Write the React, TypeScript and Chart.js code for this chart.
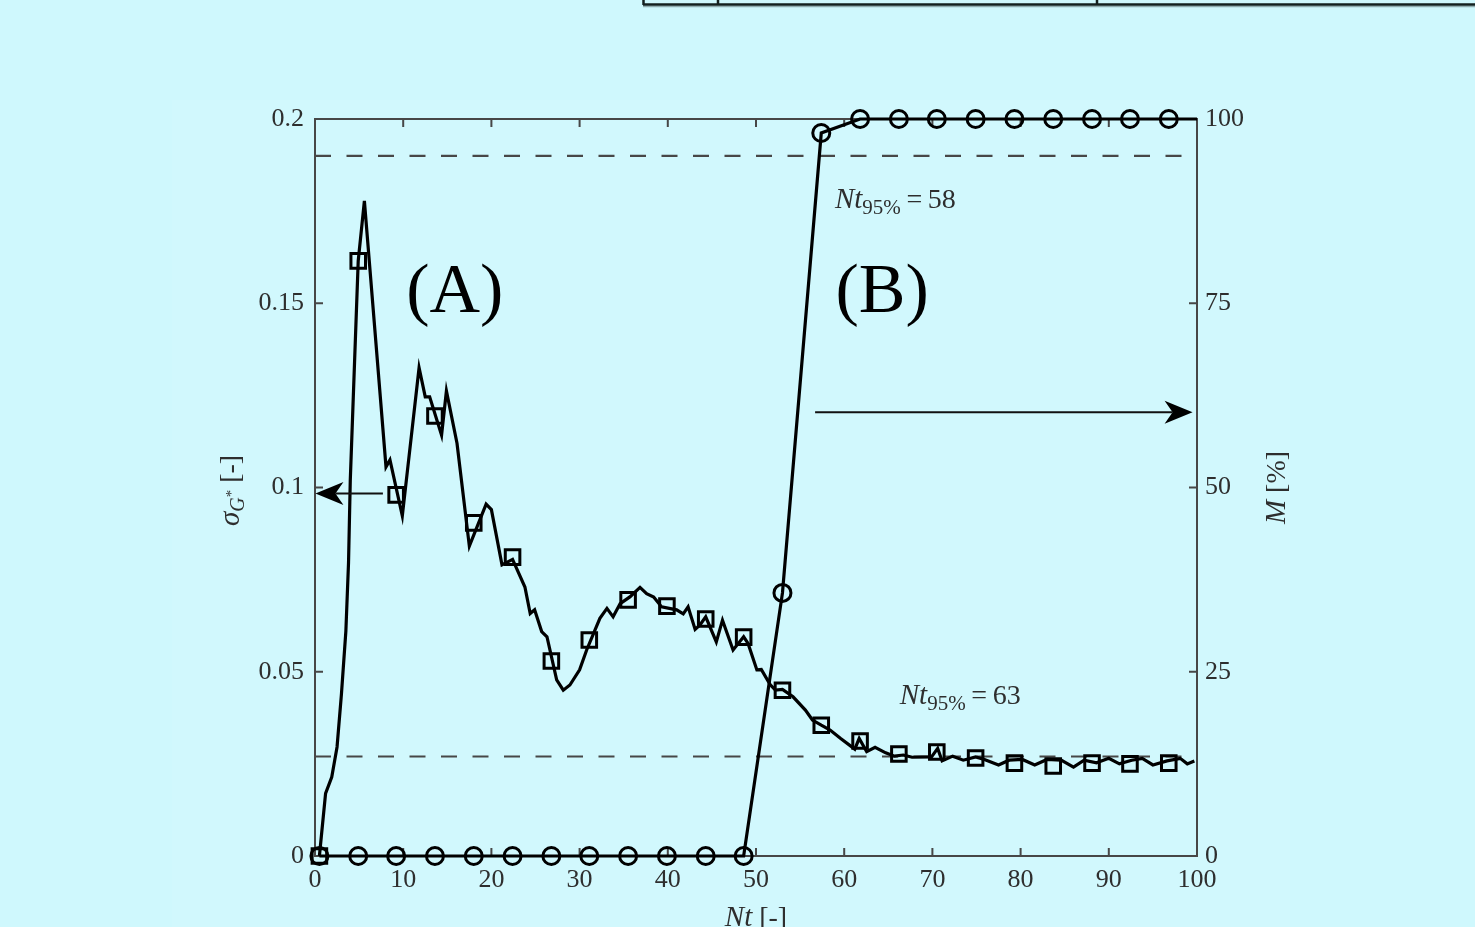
import { useEffect, useRef } from "react";
import { Chart, registerables } from "chart.js";

Chart.register(...registerables);

// ---------- data ----------
const xTickValues = [0, 10, 20, 30, 40, 50, 60, 70, 80, 90, 100];
const sigmaTickValues = [0, 0.05, 0.1, 0.15, 0.2];
const sigmaTickLabels = ["0", "0.05", "0.1", "0.15", "0.2"];
const mixingTickValues = [0, 25, 50, 75, 100];
const mixingTickLabels = ["0", "25", "50", "75", "100"];

const sigmaLineX = [
  0.5, 1.2, 1.9, 2.5, 3.0, 3.5, 3.8, 4.0, 4.9, 5.6,
  8.05, 8.5, 9.9, 11.8, 12.5, 13.0, 14.35, 14.9, 16.1, 17.5,
  19.4, 20.0, 21.2, 22.4, 23.8, 24.4, 24.9, 25.7, 26.3, 27.4,
  28.15, 28.9, 30.0, 30.8, 32.3, 33.1, 33.8, 34.6, 35.7, 36.85,
  37.6, 38.4, 39.3, 41.0, 41.75, 42.3, 43.1, 43.65, 44.3, 45.5,
  46.2, 47.4, 48.0, 48.6, 49.1, 50.1, 50.6, 51.6, 52.2, 53.0,
  54.2, 55.6, 56.4, 57.4, 58.4, 59.6, 61.2, 61.7, 62.55, 63.5,
  64.7, 65.7, 66.7, 67.7, 69.9, 70.6, 71.1, 72.3, 73.5, 74.9,
  75.9, 77.5, 78.7, 80.2, 81.6, 83.0, 84.6, 86.0, 87.2, 88.6,
  90.0, 91.2, 92.6, 93.8, 95.0, 96.6, 98.1, 98.9, 99.7,
];
const sigmaLineY = [
  0, 0.017, 0.0214, 0.0296, 0.044, 0.061, 0.0795, 0.102, 0.1615, 0.1778,
  0.1056, 0.1075, 0.0923, 0.1325, 0.1246, 0.1246, 0.1142, 0.1262, 0.112, 0.0841,
  0.0955, 0.094, 0.079, 0.0805, 0.073, 0.0658, 0.0668, 0.0609, 0.0595, 0.0478,
  0.045, 0.0464, 0.0505, 0.0559, 0.0645, 0.0672, 0.0649, 0.0685, 0.0703, 0.0729,
  0.0712, 0.0703, 0.0676, 0.0668, 0.0657, 0.0676, 0.0615, 0.0627, 0.0649, 0.0581,
  0.064, 0.0559, 0.0577, 0.0595, 0.0577, 0.0505, 0.0506, 0.0465, 0.045, 0.0452,
  0.0432, 0.0396, 0.0369, 0.0355, 0.0342, 0.0319, 0.029, 0.0319, 0.0283, 0.0295,
  0.028, 0.0271, 0.0274, 0.0268, 0.0269, 0.0292, 0.0258, 0.0271, 0.026, 0.0269,
  0.0262, 0.0247, 0.026, 0.0262, 0.0247, 0.0262, 0.026, 0.0241, 0.026, 0.0253,
  0.0265, 0.025, 0.026, 0.0265, 0.0247, 0.0258, 0.0265, 0.025, 0.0258,
];

const markerX = [
  0.5, 4.9, 9.2, 13.6, 18.0, 22.4, 26.8, 31.1, 35.5, 39.9, 44.3, 48.6,
  53.0, 57.4, 61.8, 66.2, 70.5, 74.9, 79.3, 83.7, 88.1, 92.4, 96.8,
];
const sigmaMarkers = [
  0, 0.1615, 0.098, 0.1194, 0.0904, 0.0811, 0.0529, 0.0586, 0.0695, 0.0678, 0.0643, 0.0594,
  0.045, 0.0355, 0.0312, 0.0277, 0.0282, 0.0266, 0.0252, 0.0244, 0.0252, 0.025, 0.0252,
];
const mixingMarkers = [
  0, 0, 0, 0, 0, 0, 0, 0, 0, 0, 0, 0,
  35.7, 98.1, 100, 100, 100, 100, 100, 100, 100, 100, 100,
];
const mixingEndX = 100;
const mixingEndY = 100;

const sigmaThreshold = 0.027;
const mixingThreshold = 95;

// ---------- styling ----------
const SERIF = "'Liberation Serif', 'DejaVu Serif', serif";
const BG = "#cff8fd";
const AXIS = "#474747";
const TEXT = "#2e2e2e";

type Run = { t: string; font: string; dy?: number };

function runsWidth(ctx: CanvasRenderingContext2D, runs: Run[]) {
  let w = 0;
  for (const r of runs) {
    ctx.font = r.font;
    w += ctx.measureText(r.t).width;
  }
  return w;
}

function drawRuns(ctx: CanvasRenderingContext2D, runs: Run[], x: number, y: number) {
  let cx = x;
  ctx.textBaseline = "alphabetic";
  ctx.textAlign = "left";
  for (const r of runs) {
    ctx.font = r.font;
    ctx.fillText(r.t, cx, y + (r.dy || 0));
    cx += ctx.measureText(r.t).width;
  }
}

function arrow(ctx: CanvasRenderingContext2D, x0: number, y0: number, x1: number, y1: number) {
  const ang = Math.atan2(y1 - y0, x1 - x0);
  const len = 28;
  const half = 11.5;
  const notch = 20;
  const c = Math.cos(ang), s = Math.sin(ang);
  ctx.beginPath();
  ctx.moveTo(x0, y0);
  ctx.lineTo(x1 - c * notch, y1 - s * notch);
  ctx.lineWidth = 2;
  ctx.strokeStyle = "#111";
  ctx.stroke();
  ctx.beginPath();
  ctx.moveTo(x1, y1);
  ctx.lineTo(x1 - c * len - s * half, y1 - s * len + c * half);
  ctx.lineTo(x1 - c * notch, y1 - s * notch);
  ctx.lineTo(x1 - c * len + s * half, y1 - s * len - c * half);
  ctx.closePath();
  ctx.fillStyle = "#000";
  ctx.fill();
}

const decorPlugin = {
  id: "decor",
  beforeDraw(chart: any) {
    const ctx: CanvasRenderingContext2D = chart.ctx;
    ctx.save();
    ctx.fillStyle = BG;
    ctx.fillRect(0, 0, chart.width, chart.height);
    ctx.fillStyle = "rgba(255,255,255,0.05)";
    ctx.fillRect(172, 100, 1118, chart.height - 100);
    // fragment of a table border at the top
    ctx.strokeStyle = "rgba(0,0,0,0.3)";
    ctx.lineWidth = 1.5;
    ctx.beginPath();
    ctx.moveTo(643, 6.5);
    ctx.lineTo(chart.width, 6.5);
    ctx.stroke();
    ctx.strokeStyle = "#14201f";
    ctx.lineWidth = 2.5;
    ctx.beginPath();
    ctx.moveTo(643, 4.5);
    ctx.lineTo(chart.width, 4.5);
    for (const vx of [643.5, 718, 1097]) {
      ctx.moveTo(vx, 0);
      ctx.lineTo(vx, 5);
    }
    ctx.stroke();
    ctx.restore();
  },
  beforeDatasetsDraw(chart: any) {
    const ctx: CanvasRenderingContext2D = chart.ctx;
    const a = chart.chartArea;
    const xs = chart.scales.x;
    const ys = chart.scales.y;
    const y2 = chart.scales.y2;
    ctx.save();
    ctx.strokeStyle = AXIS;
    ctx.lineWidth = 2;
    ctx.strokeRect(a.left, a.top, a.right - a.left, a.bottom - a.top);
    const tl = 8;
    ctx.beginPath();
    for (const v of xTickValues) {
      if (v === 0 || v === 100) continue;
      const px = xs.getPixelForValue(v);
      ctx.moveTo(px, a.bottom);
      ctx.lineTo(px, a.bottom - tl);
      ctx.moveTo(px, a.top);
      ctx.lineTo(px, a.top + tl);
    }
    for (const v of sigmaTickValues) {
      if (v === 0 || v === 0.2) continue;
      const py = ys.getPixelForValue(v);
      ctx.moveTo(a.left, py);
      ctx.lineTo(a.left + tl, py);
    }
    for (const v of mixingTickValues) {
      if (v === 0 || v === 100) continue;
      const py = y2.getPixelForValue(v);
      ctx.moveTo(a.right, py);
      ctx.lineTo(a.right - tl, py);
    }
    ctx.stroke();
    ctx.restore();
  },
  afterDatasetsDraw(chart: any) {
    const ctx: CanvasRenderingContext2D = chart.ctx;
    const a = chart.chartArea;
    const xs = chart.scales.x;
    const ys = chart.scales.y;
    const y2 = chart.scales.y2;
    ctx.save();

    // arrows
    arrow(ctx, xs.getPixelForValue(7.7), ys.getPixelForValue(0.0984), xs.getPixelForValue(0.05), ys.getPixelForValue(0.0984));
    arrow(ctx, xs.getPixelForValue(56.7), y2.getPixelForValue(60.2), xs.getPixelForValue(99.5), y2.getPixelForValue(60.2));

    // big labels
    ctx.fillStyle = "#000";
    ctx.font = `70px ${SERIF}`;
    ctx.textAlign = "center";
    ctx.textBaseline = "alphabetic";
    ctx.fillText("(A)", xs.getPixelForValue(15.85), ys.getPixelForValue(0.1475));
    ctx.fillText("(B)", xs.getPixelForValue(64.3), ys.getPixelForValue(0.1475));

    // Nt95% annotations
    ctx.fillStyle = TEXT;
    const ann = (val: string): Run[] => [
      { t: "Nt", font: `italic 29px ${SERIF}` },
      { t: "95%", font: `21px ${SERIF}`, dy: 6 },
      { t: "\u2009=\u2009" + val, font: `28px ${SERIF}` },
    ];
    drawRuns(ctx, ann("58"), xs.getPixelForValue(58.95), ys.getPixelForValue(0.1759));
    drawRuns(ctx, ann("63"), xs.getPixelForValue(66.3), ys.getPixelForValue(0.0412));

    // axis titles
    const leftTitle: Run[] = [
      { t: "σ", font: `italic 29px ${SERIF}` },
      { t: "G", font: `italic 20px ${SERIF}`, dy: 5 },
      { t: "*", font: `15px ${SERIF}`, dy: -3 },
      { t: " [-]", font: `28px ${SERIF}` },
    ];
    const rightTitle: Run[] = [
      { t: "M", font: `italic 29px ${SERIF}` },
      { t: " [%]", font: `28px ${SERIF}` },
    ];
    const bottomTitle: Run[] = [
      { t: "Nt", font: `italic 29px ${SERIF}` },
      { t: " [-]", font: `28px ${SERIF}` },
    ];
    const midY = (a.top + a.bottom) / 2;
    let w = runsWidth(ctx, leftTitle);
    ctx.save();
    ctx.translate(a.left - 76, midY + 3);
    ctx.rotate(-Math.PI / 2);
    drawRuns(ctx, leftTitle, -w / 2, 0);
    ctx.restore();

    w = runsWidth(ctx, rightTitle);
    ctx.save();
    ctx.translate(a.right + 88, midY);
    ctx.rotate(-Math.PI / 2);
    drawRuns(ctx, rightTitle, -w / 2, 0);
    ctx.restore();

    w = runsWidth(ctx, bottomTitle);
    drawRuns(ctx, bottomTitle, (a.left + a.right) / 2 - w / 2, a.bottom + 70);

    ctx.restore();
  },
};

export default function App() {
  const canvasRef = useRef<HTMLCanvasElement | null>(null);

  useEffect(() => {
    const canvas = canvasRef.current;
    if (!canvas) return;

    const sigmaLine = sigmaLineX.map((x, i) => ({ x, y: sigmaLineY[i] }));
    const sigmaPts = markerX.map((x, i) => ({ x, y: sigmaMarkers[i] }));
    const mixingPts = markerX.map((x, i) => ({ x, y: mixingMarkers[i] }));
    mixingPts.push({ x: mixingEndX, y: mixingEndY });

    const tickFont = { family: SERIF, size: 26 };
    const noGrid = { display: false, drawTicks: false };

    const chart = new Chart(canvas, {
      type: "line",
      data: {
        datasets: [
          {
            label: "sigma95",
            data: [{ x: 0, y: sigmaThreshold }, { x: 100, y: sigmaThreshold }],
            yAxisID: "y",
            borderColor: AXIS,
            borderWidth: 2.2,
            borderDash: [16, 15.5],
            pointRadius: 0,
            order: 5,
          },
          {
            label: "M95",
            data: [{ x: 0, y: mixingThreshold }, { x: 100, y: mixingThreshold }],
            yAxisID: "y2",
            borderColor: AXIS,
            borderWidth: 2.2,
            borderDash: [16, 15.5],
            pointRadius: 0,
            order: 5,
          },
          {
            label: "sigma",
            data: sigmaLine,
            yAxisID: "y",
            borderColor: "#000",
            borderWidth: 3.2,
            pointRadius: 0,
            tension: 0,
            clip: false as any,
            order: 3,
          },
          {
            label: "sigmaMarkers",
            data: sigmaPts,
            yAxisID: "y",
            showLine: false,
            pointStyle: "rect",
            pointRadius: 10.3,
            pointBorderWidth: 3,
            pointBorderColor: "#000",
            pointBackgroundColor: "rgba(0,0,0,0)",
            clip: false as any,
            order: 2,
          },
          {
            label: "M",
            data: mixingPts,
            yAxisID: "y2",
            borderColor: "#000",
            borderWidth: 3.2,
            tension: 0,
            pointStyle: "circle",
            pointRadius: (c: any) => (c.dataIndex < markerX.length ? 8.5 : 0),
            pointBorderWidth: 3,
            pointBorderColor: "#000",
            pointBackgroundColor: "rgba(0,0,0,0)",
            clip: false as any,
            order: 1,
          },
        ],
      },
      options: {
        responsive: false,
        animation: false,
        devicePixelRatio: 1,
        layout: { padding: { top: 119, left: 0, right: 0, bottom: 0 } },
        plugins: {
          legend: { display: false },
          tooltip: { enabled: false },
        },
        events: [],
        scales: {
          x: {
            type: "linear",
            min: 0,
            max: 100,
            afterBuildTicks: (s: any) => {
              s.ticks = xTickValues.map((v) => ({ value: v }));
            },
            ticks: {
              color: TEXT,
              font: tickFont,
              padding: 9,
              maxRotation: 0,
              autoSkip: false,
              callback: (v: any) => String(v),
            },
            grid: noGrid,
            border: { display: false },
            afterFit: (s: any) => {
              s.height = 71;
            },
          },
          y: {
            type: "linear",
            position: "left",
            min: 0,
            max: 0.2,
            afterBuildTicks: (s: any) => {
              s.ticks = sigmaTickValues.map((v) => ({ value: v }));
            },
            ticks: {
              color: TEXT,
              font: tickFont,
              padding: 11,
              autoSkip: false,
              callback: (v: any) => {
                const i = sigmaTickValues.findIndex((t) => Math.abs(t - v) < 1e-9);
                return i >= 0 ? sigmaTickLabels[i] : "";
              },
            },
            grid: noGrid,
            border: { display: false },
            afterFit: (s: any) => {
              s.width = 315;
            },
          },
          y2: {
            type: "linear",
            position: "right",
            min: 0,
            max: 100,
            afterBuildTicks: (s: any) => {
              s.ticks = mixingTickValues.map((v) => ({ value: v }));
            },
            ticks: {
              color: TEXT,
              font: tickFont,
              padding: 8,
              autoSkip: false,
              callback: (v: any) => {
                const i = mixingTickValues.indexOf(v);
                return i >= 0 ? mixingTickLabels[i] : "";
              },
            },
            grid: noGrid,
            border: { display: false },
            afterFit: (s: any) => {
              s.width = 278;
            },
          },
        },
      },
      plugins: [decorPlugin],
    });

    return () => chart.destroy();
  }, []);

  return (
    <div style={{ position: "fixed", left: 0, top: 0, width: 1475, height: 927, background: BG, overflow: "hidden" }}>
      <canvas ref={canvasRef} width={1475} height={927} style={{ display: "block", width: 1475, height: 927 }} />
    </div>
  );
}
